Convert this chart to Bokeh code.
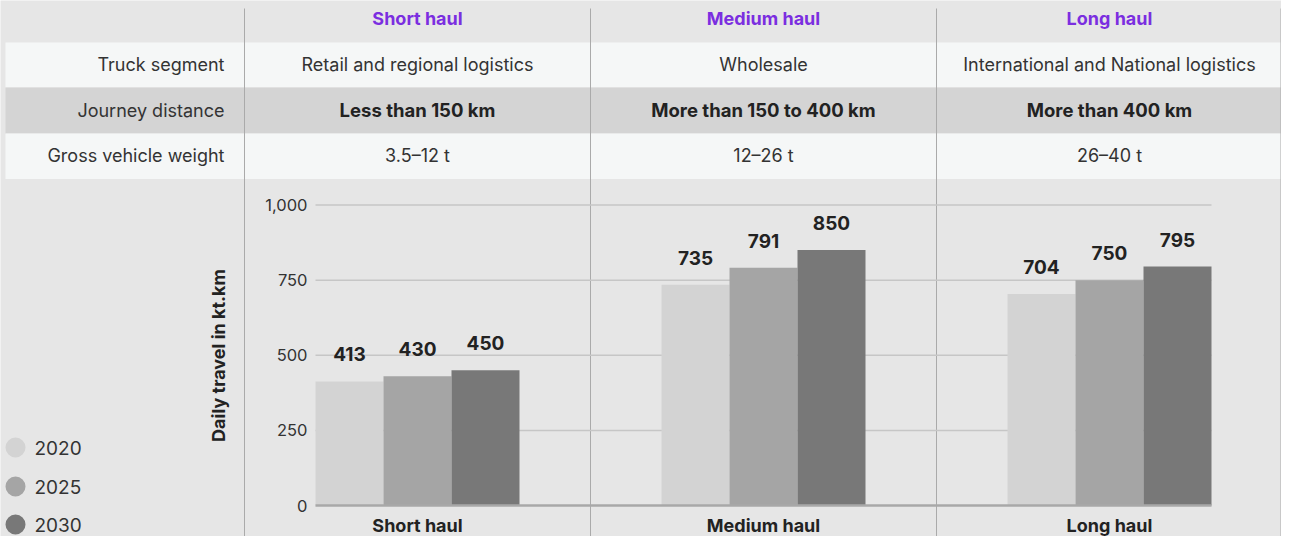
import math
from bokeh.plotting import figure
from bokeh.models import Range1d, ColumnDataSource
from bokeh.core.properties import value
from bokeh.embed import file_html
from bokeh.resources import INLINE

# ---------------- data ----------------
categories = ["Short haul", "Medium haul", "Long haul"]
years = ["2020", "2025", "2030"]
values_2020 = [413, 735, 704]
values_2025 = [430, 791, 750]
values_2030 = [450, 850, 795]
row_labels = ["Truck segment", "Journey distance", "Gross vehicle weight"]
truck_segment = ["Retail and regional logistics", "Wholesale", "International and National logistics"]
journey_distance = ["Less than 150 km", "More than 150 to 400 km", "More than 400 km"]
gross_weight = ["3.5–12 t", "12–26 t", "26–40 t"]
y_ticks = [0, 250, 500, 750, 1000]
y_tick_labels = ["0", "250", "500", "750", "1,000"]
y_axis_title = "Daily travel in kt.km"

# ---------------- style / layout ----------------
FONT = value("Inter")
BG = "#e6e6e6"
BAR_COLORS = ["#d3d3d3", "#a5a5a5", "#787878"]
PURPLE = "#7b2ee0"
TXT = "#333333"
TXT_B = "#222222"
W, H = 1281, 536
CAT_PX = 346.0      # pixels per category
CAT0 = 417.0        # pixel x of first category centre
VAL0 = 505.0        # pixel y of value 0
VAL_PX = 0.3005     # pixels per value unit
BAR_W = 68.0 / CAT_PX

p = figure(width=W, height=H, x_range=Range1d(0, W), y_range=Range1d(H, 0),
           output_backend="svg", toolbar_location=None, min_border=0,
           x_axis_location=None, y_axis_location=None,
           background_fill_color=BG, border_fill_color=BG, outline_line_color=None)
p.xgrid.visible = False
p.ygrid.visible = False
p.extra_x_ranges = {"cat": Range1d(-CAT0 / CAT_PX, (W - CAT0) / CAT_PX)}
p.extra_y_ranges = {"val": Range1d(-(H - VAL0) / VAL_PX, VAL0 / VAL_PX)}

idx = list(range(len(categories)))

# ---------------- table ----------------
row_tops = [42, 87, 133]
row_bottoms = [87, 133, 178.5]
row_mid = [64, 109.5, 155]
p.quad(left=[5] * 3, right=[1281] * 3, top=row_tops, bottom=row_bottoms,
       fill_color=["#f5f7f7", "#d4d4d4", "#f5f7f7"], line_color=None)

# separators
x_max_cat = (W - 0.5 - CAT0) / CAT_PX
seps = [min(i - 0.5, x_max_cat) for i in idx + [len(idx)]]
p.segment(x0=seps, x1=seps, y0=[8] * len(seps), y1=[539] * len(seps),
          x_range_name="cat", line_color="#aaaaaa", line_width=1)

# header titles
p.text(x=idx, y=[18] * 3, text=categories, x_range_name="cat",
       text_font=FONT, text_font_size="18px", text_font_style="bold",
       text_color=PURPLE, text_align="center", text_baseline="middle")

# row labels
p.text(x=[224] * 3, y=row_mid, text=row_labels, text_font=FONT, text_font_size="18px",
       text_color=TXT, text_align="right", text_baseline="middle")

for vals, ymid, style in [(truck_segment, row_mid[0], "normal"),
                          (journey_distance, row_mid[1], "bold"),
                          (gross_weight, row_mid[2], "normal")]:
    p.text(x=idx, y=[ymid] * 3, text=vals, x_range_name="cat",
           text_font=FONT, text_font_size="18.5px" if style == "bold" else "18px",
           text_font_style=style,
           text_color=TXT_B if style == "bold" else TXT,
           text_align="center", text_baseline="middle")

# ---------------- chart ----------------
g_left = -1.5 * BAR_W
g_right = (len(idx) - 1) + 1.5 * BAR_W
grid_vals = [t for t in y_ticks if t != 0]
p.segment(x0=[g_left] * len(grid_vals), x1=[g_right] * len(grid_vals),
          y0=grid_vals, y1=grid_vals, x_range_name="cat", y_range_name="val",
          line_color="#c6c6c6", line_width=1.5)

series = [values_2020, values_2025, values_2030]
offsets = [-BAR_W, 0.0, BAR_W]
for vals, off, col in zip(series, offsets, BAR_COLORS):
    src = ColumnDataSource(dict(x=[i + off for i in idx], top=vals,
                                label=[str(v) for v in vals]))
    p.vbar(x="x", top="top", bottom=0, width=BAR_W, source=src,
           x_range_name="cat", y_range_name="val", fill_color=col, line_color=None)
    p.text(x="x", y="top", text="label", source=src, x_range_name="cat", y_range_name="val",
           y_offset=-27, text_font=FONT, text_font_size="19px", text_font_style="bold",
           text_color=TXT_B, text_align="center", text_baseline="alphabetic")

# baseline
p.segment(x0=[g_left], x1=[g_right], y0=[0], y1=[0], x_range_name="cat", y_range_name="val",
          line_color="#a8a8a8", line_width=2.5)

# y tick labels
p.text(x=[g_left] * len(y_ticks), y=y_ticks, text=y_tick_labels, x_offset=-8,
       x_range_name="cat", y_range_name="val", text_font=FONT, text_font_size="16.5px",
       text_color=TXT, text_align="right", text_baseline="middle")

# y axis title
p.text(x=[218], y=[355], text=[y_axis_title], angle=math.pi / 2,
       text_font=FONT, text_font_size="18px", text_font_style="bold",
       text_color=TXT_B, text_align="center", text_baseline="middle")

# category labels below
p.text(x=idx, y=[525] * 3, text=categories, x_range_name="cat",
       text_font=FONT, text_font_size="18px", text_font_style="bold",
       text_color=TXT_B, text_align="center", text_baseline="middle")

# legend
leg_y = [447, 486, 524]
p.scatter(x=[15] * 3, y=leg_y, size=20, marker="circle", fill_color=BAR_COLORS, line_color=None)
p.text(x=[34] * 3, y=leg_y, text=years, text_font=FONT, text_font_size="19px",
       text_color=TXT, text_align="left", text_baseline="middle")

open("out.html", "w").write(file_html(p, INLINE))
